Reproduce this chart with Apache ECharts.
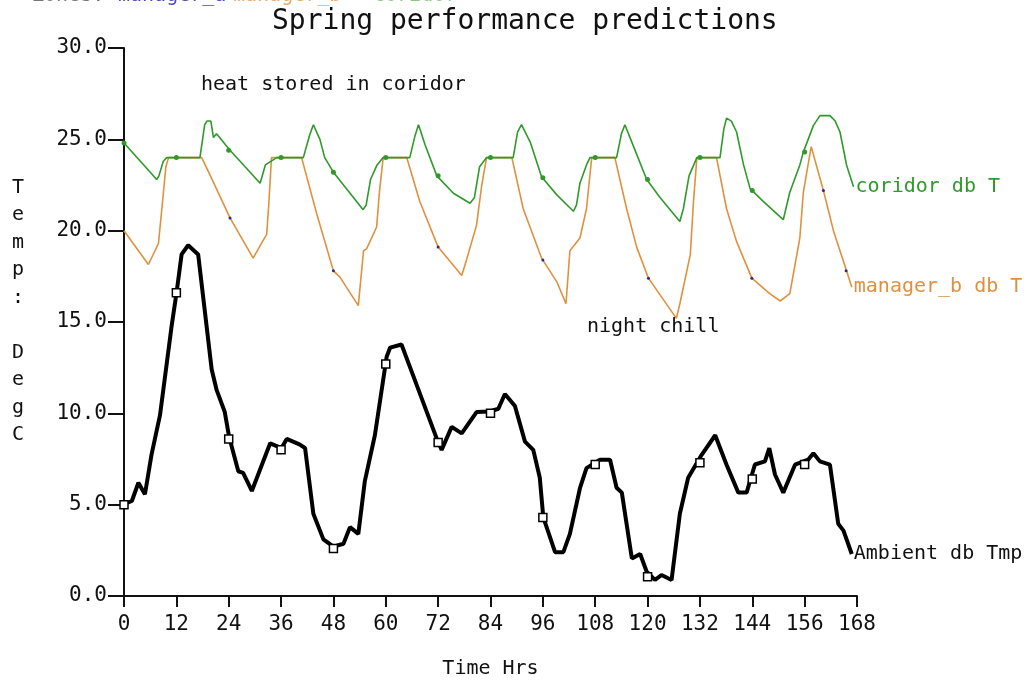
<!DOCTYPE html>
<html>
<head>
<meta charset="utf-8">
<script src="https://cdn.jsdelivr.net/npm/echarts@6/dist/echarts.min.js"></script>
<style>html,body{margin:0;padding:0;background:#fff}#c{width:1030px;height:684px}</style>
</head>
<body>
<div id="c"></div>
<script>
// ---- data ----
const xTicks = [0,12,24,36,48,60,72,84,96,108,120,132,144,156,168];
const yTicks = [0,5,10,15,20,25,30];

const coridorHours = [0,7.5,8.0,9.0,9.8,17.4,18.5,19.0,19.9,20.5,21.2,24.3,31.2,32.4,35.0,41.1,42.5,43.4,44.9,46.0,48.0,51.0,54.8,55.5,56.5,58.0,59.4,65.5,66.7,67.5,69.0,71.7,75.5,79.3,80.3,81.5,83.1,89.2,90.2,91.1,93.1,95.7,99.2,103.0,103.7,104.5,106.0,106.8,112.9,114.0,114.8,116.8,119.8,122.9,127.4,128.2,129.5,131.3,136.6,137.5,138.1,139.2,140.4,142.0,143.5,146.5,151.1,152.6,154.9,155.7,158.0,159.5,161.8,163.0,164.1,165.6,167.2];
const coridorTemps = [24.8,22.8,23.0,23.8,24.0,24.0,25.8,26.0,26.0,25.1,25.3,24.4,22.6,23.6,24.0,24.0,25.2,25.8,25.0,24.0,23.2,22.3,21.15,21.4,22.8,23.6,24.0,24.0,25.2,25.8,24.7,23.0,22.05,21.5,21.8,23.5,24.0,24.0,25.4,25.8,24.85,22.95,21.96,21.06,21.4,22.6,23.6,24.0,24.0,25.3,25.8,24.6,22.8,21.8,20.5,21.2,23.0,24.0,24.0,25.6,26.16,26.0,25.4,23.6,22.3,21.6,20.6,22.1,23.6,24.3,25.75,26.3,26.3,26.0,25.4,23.6,22.4];

const managerHours = [0,5.6,6.5,7.9,8.8,9.6,10.2,17.8,19.7,24.3,29.6,31.5,32.7,33.2,33.8,40.7,44.2,48.0,49.5,53.7,54.9,55.6,57.9,58.5,59.4,64.8,67.8,72.0,77.4,78.5,80.8,82.0,83.1,88.9,91.5,95.7,99.2,101.3,102.2,104.5,106.0,107.2,112.5,115.2,117.5,120.2,126.6,127.4,129.8,130.5,131.3,135.8,138.1,140.4,143.9,148.0,150.4,152.6,154.9,155.7,157.5,160.3,162.6,165.6,166.8];
const managerTemps = [20.0,18.15,18.6,19.3,21.5,23.5,24.0,24.0,23.05,20.7,18.5,19.3,19.8,21.5,24.0,24.0,20.9,17.8,17.46,15.9,18.9,19.0,20.2,22.0,24.0,24.0,21.6,19.1,17.55,18.4,20.3,22.5,24.0,24.0,21.2,18.5,17.2,16.0,18.9,19.6,21.2,24.0,24.0,21.2,19.1,17.4,15.2,16.0,18.7,21.5,24.0,24.0,21.2,19.4,17.4,16.55,16.15,16.55,19.6,22.1,24.6,22.2,20.0,17.8,16.9];

const ambientHours = [0,1.8,3.3,4.8,6.3,8.25,10.9,12.1,13.2,14.7,17.0,20.1,21.2,23.1,24.1,26.2,27.3,29.3,33.5,36.1,37.3,40.2,41.5,43.4,45.7,48.0,50.3,51.8,53.7,55.2,57.5,60.2,61.0,63.6,66.3,71.7,72.8,75.1,77.4,80.8,83.9,85.8,87.3,89.6,91.9,93.8,95.3,96.1,98.8,100.7,102.2,104.5,106.0,109.1,111.4,112.9,114.1,116.4,118.3,119.8,121.7,123.2,125.5,127.4,129.3,132.4,135.5,138.1,140.8,142.7,144.6,146.9,147.9,149.2,151.1,153.8,156.8,158.0,159.5,161.8,163.7,164.9,166.8];
const ambientTemps = [5.03,5.2,6.2,5.57,7.73,9.9,14.76,16.7,18.7,19.2,18.7,12.4,11.3,10.07,8.7,6.83,6.74,5.75,8.36,8.1,8.6,8.3,8.1,4.5,3.1,2.7,2.86,3.77,3.4,6.29,8.8,13.1,13.6,13.77,12.05,8.6,8.0,9.26,8.9,10.07,10.1,10.25,11.06,10.4,8.45,8.0,6.47,4.3,2.4,2.4,3.4,5.9,7.0,7.46,7.46,5.93,5.66,2.05,2.3,1.33,0.88,1.15,0.88,4.5,6.47,7.73,8.8,7.19,5.66,5.66,7.2,7.37,8.09,6.65,5.66,7.19,7.46,7.82,7.37,7.19,3.95,3.58,2.3];

const markerHours = [0,12,24,36,48,60,72,84,96,108,120,132,144,156];
const ambientMarks = [5.0,16.6,8.6,8.0,2.6,12.7,8.4,10.0,4.3,7.2,1.05,7.3,6.4,7.2];
const coridorMarks = [24.8,24.0,24.4,24.0,23.2,24.0,23.0,24.0,22.9,24.0,22.8,24.0,22.2,24.3];
const managerDotHours = [24.3,48,72,96,120.2,143.9,160.3,165.5];
const managerDotTemps = [20.7,17.8,19.1,18.4,17.4,17.4,22.2,17.8];

const seriesNames = ['coridor db T','manager_b db T','Ambient db Tmp'];
const titleText = 'Spring performance predictions';
const xName = 'Time Hrs';
const yName = 'Temp: DegC';
const notes = ['heat stored in coridor','night chill'];
const zoneWords = ['Zones:','manager_a','manager_b','coridor'];

// ---- chart ----
const FONT = '"DejaVu Sans Mono", "Liberation Mono", monospace';
const GREEN = '#2f9a2a', ORANGE = '#e0913f', BLUE = '#2a2a8a';
const pairs = (h, v) => h.map((x, i) => [x, v[i]]);

const chart = echarts.init(document.getElementById('c'), null, {renderer: 'canvas'});
chart.setOption({
  animation: false,
  backgroundColor: '#fff',
  title: {
    text: titleText, left: 267, top: 3,
    textStyle: {fontFamily: FONT, fontSize: 28, fontWeight: 'normal', color: '#111'}
  },
  grid: {left: 124, right: 173, top: 48, bottom: 81, containLabel: false},
  xAxis: {
    type: 'value', min: 0, max: 168, interval: 12,
    name: xName, nameLocation: 'middle', nameGap: 63,
    nameTextStyle: {fontFamily: FONT, fontSize: 20, color: '#111'},
    axisLine: {lineStyle: {color: '#111', width: 2}},
    axisTick: {length: 11, lineStyle: {color: '#111', width: 2}},
    axisLabel: {margin: 18, fontFamily: FONT, fontSize: 21, color: '#111',
      formatter: v => xTicks.includes(v) ? String(v) : ''},
    splitLine: {show: false}
  },
  yAxis: {
    type: 'value', min: 0, max: 30, interval: 5,
    axisLine: {show: true, lineStyle: {color: '#111', width: 2}},
    axisTick: {show: true, length: 16, lineStyle: {color: '#111', width: 2}},
    axisLabel: {margin: 17, fontFamily: FONT, fontSize: 21, color: '#111',
      formatter: v => yTicks.includes(v) ? v.toFixed(1) : ''},
    splitLine: {show: false}
  },
  series: [
    {
      name: seriesNames[0], type: 'line', data: pairs(coridorHours, coridorTemps),
      showSymbol: false, lineStyle: {color: GREEN, width: 1.6}, itemStyle: {color: GREEN},
      endLabel: {show: true, formatter: p => p.seriesName, distance: 2, color: GREEN,
        fontFamily: FONT, fontSize: 20}
    },
    {
      name: seriesNames[1], type: 'line', data: pairs(managerHours, managerTemps),
      showSymbol: false, lineStyle: {color: ORANGE, width: 1.6}, itemStyle: {color: ORANGE}, z: 1,
      endLabel: {show: true, formatter: p => p.seriesName, distance: 2, color: ORANGE,
        fontFamily: FONT, fontSize: 20}
    },
    {
      name: seriesNames[2], type: 'line', data: pairs(ambientHours, ambientTemps),
      showSymbol: false, lineStyle: {color: '#000', width: 4}, itemStyle: {color: '#000'},
      endLabel: {show: true, formatter: p => p.seriesName, distance: 2, color: '#111',
        fontFamily: FONT, fontSize: 20}
    },
    {
      type: 'scatter', data: pairs(markerHours, ambientMarks), symbol: 'rect', symbolSize: 8,
      itemStyle: {color: '#fff', borderColor: '#000', borderWidth: 1.5, opacity: 1}, z: 5
    },
    {
      type: 'scatter', data: pairs(markerHours, coridorMarks), symbol: 'circle', symbolSize: 5,
      itemStyle: {color: GREEN, opacity: 1}, z: 5
    },
    {
      type: 'scatter', data: pairs(managerDotHours, managerDotTemps), symbol: 'circle', symbolSize: 3,
      itemStyle: {color: BLUE, opacity: 1}, z: 5
    }
  ],
  graphic: [
    {type: 'text', x: 18, y: 174, z: 10,
      style: {text: yName.split('').join('\n'), font: '20px ' + FONT,
        fill: '#111', align: 'center', textAlign: 'center', lineHeight: 27.5}},
    {type: 'text', x: 201, y: 85, z: 10,
      style: {text: notes[0], font: '20px ' + FONT, fill: '#111', verticalAlign: 'middle', textVerticalAlign: 'middle'}},
    {type: 'text', x: 587, y: 327, z: 10,
      style: {text: notes[1], font: '20px ' + FONT, fill: '#111', verticalAlign: 'middle', textVerticalAlign: 'middle'}},
    {type: 'text', x: 32, y: 6, z: 10,
      style: {text: zoneWords[0], font: '20px ' + FONT, fill: '#777', verticalAlign: 'bottom', textVerticalAlign: 'bottom'}},
    {type: 'text', x: 118, y: 6, z: 10,
      style: {text: zoneWords[1], font: '20px ' + FONT, fill: '#4a4ab0', verticalAlign: 'bottom', textVerticalAlign: 'bottom'}},
    {type: 'text', x: 233, y: 6, z: 10,
      style: {text: zoneWords[2], font: '20px ' + FONT, fill: '#e8a870', verticalAlign: 'bottom', textVerticalAlign: 'bottom'}},
    {type: 'text', x: 373, y: 6, z: 10,
      style: {text: zoneWords[3], font: '20px ' + FONT, fill: '#8ac88a', verticalAlign: 'bottom', textVerticalAlign: 'bottom'}}
  ]
});
</script>
</body>
</html>
